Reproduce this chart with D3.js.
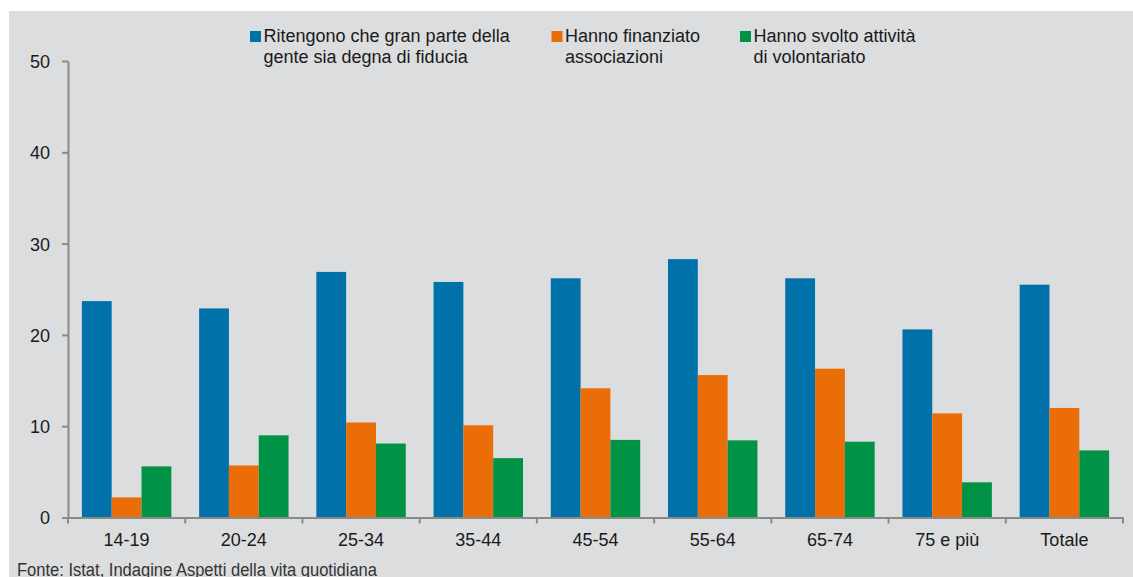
<!DOCTYPE html>
<html><head><meta charset="utf-8">
<script src="https://cdn.jsdelivr.net/npm/d3@7"></script>
<style>html,body{margin:0;padding:0;background:#fff;}svg{display:block;}</style>
</head><body>
<svg id="chart" width="1133" height="577"></svg>
<script>
const categories = ["14-19","20-24","25-34","35-44","45-54","55-64","65-74","75 e più","Totale"];
const seriesNames = [
  ["Ritengono che gran parte della","gente sia degna di fiducia"],
  ["Hanno finanziato","associazioni"],
  ["Hanno svolto attività","di volontariato"]
];
const fiducia    = [23.7, 22.9, 26.9, 25.8, 26.2, 28.3, 26.2, 20.6, 25.5];
const finanziato = [2.2, 5.7, 10.4, 10.1, 14.15, 15.6, 16.3, 11.4, 12.0];
const volontari  = [5.6, 9.0, 8.1, 6.5, 8.5, 8.45, 8.3, 3.85, 7.35];
const yTicks = [0,10,20,30,40,50];
const sourceText = "Fonte: Istat, Indagine Aspetti della vita quotidiana";

const colors = ["#0071a9","#eb6d07","#009245"];
const keys = ["s0","s1","s2"];
const rows = categories.map((c,i)=>({cat:c, s0:fiducia[i], s1:finanziato[i], s2:volontari[i]}));

const svg = d3.select("#chart");
svg.append("rect").attr("x",9).attr("y",11).attr("width",1124).attr("height",566).attr("fill","#dcdddf");

const mLeft=68, mRight=1123, mTop=61, mBottom=517.5;
const x0 = d3.scaleBand().domain(categories).range([mLeft,mRight]).padding(0);
const x1 = d3.scaleBand().domain(keys).range([0,x0.bandwidth()]).paddingInner(0).paddingOuter(0.466);
const y = d3.scaleLinear().domain([0,50]).range([mBottom,mTop]);

// bars
const g = svg.append("g");
g.selectAll("g.grp").data(rows).join("g").attr("class","grp")
  .attr("transform",d=>`translate(${x0(d.cat)},0)`)
  .selectAll("rect").data(d=>keys.map((k,j)=>({k, j, v:d[k]}))).join("rect")
  .attr("x",d=>x1(d.k)).attr("width",x1.bandwidth())
  .attr("y",d=>y(d.v)).attr("height",d=>y(0)-y(d.v))
  .attr("fill",d=>colors[d.j]);

const axisColor="#8a8a8a";
const font = "Liberation Sans, Arial, sans-serif";
// y axis
const ya = svg.append("g").attr("transform",`translate(${mLeft},0)`)
  .call(d3.axisLeft(y).tickValues(yTicks).tickSize(6).tickPadding(12).tickSizeOuter(0));
ya.select(".domain").attr("stroke",axisColor).attr("stroke-width",2);
ya.selectAll(".tick line").attr("stroke",axisColor).attr("stroke-width",2);
ya.selectAll(".tick text").attr("fill","#1a1a1a").style("font-family",font).style("font-size","18px").attr("dy","0.36em");

// x axis
const xa = svg.append("g").attr("transform",`translate(0,${mBottom})`)
  .call(d3.axisBottom(x0).tickSize(0).tickPadding(15.5).tickSizeOuter(0));
xa.select(".domain").attr("stroke",axisColor).attr("stroke-width",2);
xa.selectAll(".tick text").attr("fill","#1a1a1a").style("font-family",font).style("font-size","18px");
const bounds = categories.map(c=>x0(c)).concat([x0(categories[categories.length-1])+x0.bandwidth()]);
svg.append("g").selectAll("line").data(bounds).join("line")
  .attr("x1",d=>d).attr("x2",d=>d).attr("y1",mBottom).attr("y2",mBottom+6)
  .attr("stroke",axisColor).attr("stroke-width",2);

// legend
const legX = [250,551.5,740];
const leg = svg.append("g");
seriesNames.forEach((lines,i)=>{
  leg.append("rect").attr("x",legX[i]).attr("y",31).attr("width",11).attr("height",11).attr("fill",colors[i]);
  lines.forEach((t,k)=>{
    leg.append("text").attr("x",legX[i]+13.5).attr("y",42+k*21).text(t)
      .attr("fill","#1a1a1a").style("font-family",font).style("font-size","18px");
  });
});

// source
svg.append("text").attr("x",17).attr("y",576).text(sourceText)
  .attr("fill","#333").style("font-family","Liberation Sans Narrow, Arial Narrow, sans-serif").style("font-size","18px")
  .attr("textLength",360).attr("lengthAdjust","spacingAndGlyphs");
</script>
</body></html>
